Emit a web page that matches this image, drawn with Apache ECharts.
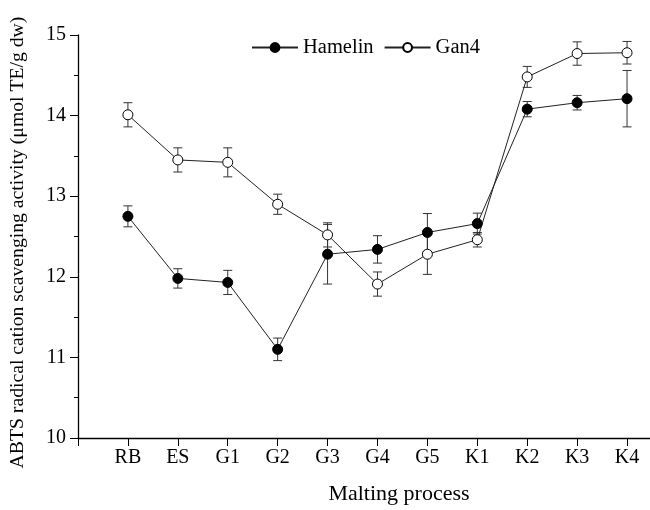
<!DOCTYPE html>
<html><head><meta charset="utf-8">
<script src="https://cdn.jsdelivr.net/npm/echarts@6/dist/echarts.min.js"></script>
<style>html,body{margin:0;padding:0;background:#fff}#c{width:650px;height:510px}</style>
</head><body><div id="c"></div>
<script>
const categories = ['RB','ES','G1','G2','G3','G4','G5','K1','K2','K3','K4'];
const hamelin    = [12.75, 11.98, 11.93, 11.10, 12.28, 12.34, 12.55, 12.66, 14.08, 14.16, 14.21];
const hamelinErr = [0.13, 0.12, 0.15, 0.14, 0.37, 0.17, 0.235, 0.13, 0.095, 0.09, 0.35];
const gan4       = [14.01, 13.45, 13.42, 12.90, 12.52, 11.91, 12.28, 12.46, 14.48, 14.77, 14.78];
const gan4Err    = [0.15, 0.15, 0.18, 0.125, 0.15, 0.15, 0.25, 0.09, 0.13, 0.145, 0.14];
const yTicks     = [10, 11, 12, 13, 14, 15];

const FONT = 'Liberation Serif';
const xPos = categories.map((c, i) => i + 1);

function errSeries(vals, errs) {
  return {
    type: 'custom', z: 1, silent: true,
    data: vals.map((v, i) => [xPos[i], v - errs[i], v + errs[i]]),
    renderItem: function (params, api) {
      const lo = api.coord([api.value(0), api.value(1)]);
      const hi = api.coord([api.value(0), api.value(2)]);
      const w = 4.5;
      const st = { stroke: '#333', lineWidth: 1 };
      return { type: 'group', children: [
        { type: 'line', shape: { x1: lo[0], y1: lo[1], x2: hi[0], y2: hi[1] }, style: st },
        { type: 'line', shape: { x1: hi[0] - w, y1: hi[1], x2: hi[0] + w, y2: hi[1] }, style: st },
        { type: 'line', shape: { x1: lo[0] - w, y1: lo[1], x2: lo[0] + w, y2: lo[1] }, style: st }
      ]};
    }
  };
}

const chart = echarts.init(document.getElementById('c'), null, { renderer: 'canvas' });
chart.setOption({
  animation: false,
  backgroundColor: '#fff',
  grid: { left: 77, right: 0, top: 35, bottom: 69 },
  legend: {
    top: 32, left: 246, itemWidth: 46, itemHeight: 11, itemGap: 10,
    textStyle: { fontFamily: FONT, fontSize: 20.5, color: '#000' },
    data: ['Hamelin', 'Gan4']
  },
  xAxis: {
    type: 'value', min: 0, max: 11.46,
    name: 'Malting process', nameLocation: 'middle', nameGap: 45,
    nameTextStyle: { fontFamily: FONT, fontSize: 22, color: '#000', padding: [0, 0, 0, 70] },
    axisLine: { show: true, lineStyle: { color: '#000', width: 1.3 } },
    axisTick: { show: true, length: 8, inside: false, customValues: [0].concat(xPos), lineStyle: { color: '#000' } },
    axisLabel: { customValues: xPos, formatter: v => categories[Math.round(v) - 1] || '', margin: 10,
                 fontFamily: FONT, fontSize: 20, color: '#000' },
    splitLine: { show: false }
  },
  yAxis: {
    type: 'value', min: yTicks[0], max: yTicks[yTicks.length - 1], interval: 1,
    name: 'ABTS radical cation scavenging activity (μmol TE/g dw)',
    nameLocation: 'middle', nameGap: 50,
    nameTextStyle: { fontFamily: FONT, fontSize: 19.7, color: '#000', padding: [0, 12, 0, 0] },
    axisLine: { show: true, lineStyle: { color: '#000', width: 1.3 } },
    axisTick: { show: true, length: 8, inside: false, lineStyle: { color: '#000' } },
    minorTick: { show: true, splitNumber: 2, length: 4, lineStyle: { color: '#000' } },
    axisLabel: { margin: 12, fontFamily: FONT, fontSize: 20, color: '#000' },
    splitLine: { show: false }
  },
  series: [
    errSeries(hamelin, hamelinErr),
    errSeries(gan4, gan4Err),
    {
      name: 'Hamelin', type: 'line', z: 3,
      data: hamelin.map((v, i) => [xPos[i], v]),
      symbol: 'circle', symbolSize: 10,
      lineStyle: { color: '#222', width: 1 },
      itemStyle: { color: '#000', borderColor: '#000', borderWidth: 1 }
    },
    {
      name: 'Gan4', type: 'line', z: 3,
      data: gan4.map((v, i) => [xPos[i], v]),
      symbol: 'circle', symbolSize: 10,
      lineStyle: { color: '#222', width: 1 },
      itemStyle: { color: '#fff', borderColor: '#000', borderWidth: 1 }
    }
  ]
});
</script>
</body></html>
